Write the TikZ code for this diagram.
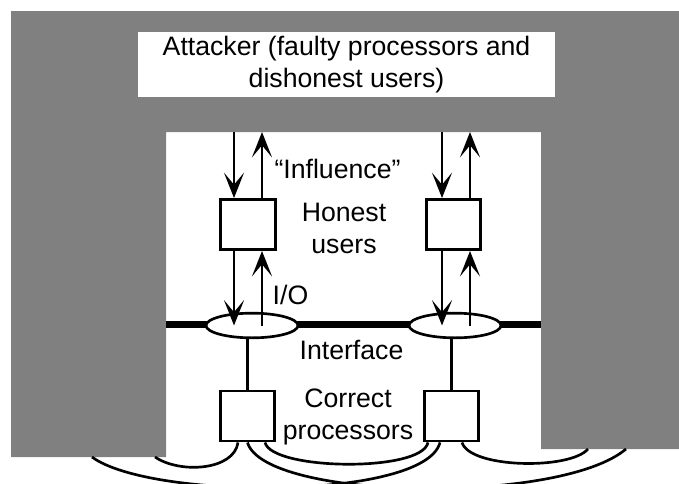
\documentclass[tikz,border=0pt]{standalone}
\usepackage{fontspec}
\setmainfont{Liberation Sans}
\usetikzlibrary{arrows.meta,calc,shapes.geometric}

\tikzset{
    box/.style={draw, line width=2.2pt, fill=white, minimum width=41pt, minimum height=37.5pt, inner sep=0pt},
    port/.style={draw, ellipse, line width=2pt, fill=white, minimum width=69pt, minimum height=18.5pt, inner sep=0pt},
    flow/.style={line width=2pt, -{Stealth[length=19pt,width=15pt,inset=9pt]}},
    wire/.style={line width=2pt},
    bus/.style={line width=5.25pt},
    panel/.style={fill=black!50},
    txt/.style={font=\fontsize{20}{24}\selectfont, align=center, inner sep=0pt},
}

\begin{document}
\begin{tikzpicture}[x=0.75pt, y=-0.75pt]
    \useasboundingbox (0,0) rectangle (679,483);
    \clip (0,0) rectangle (679,483);
    \fill[white] (0,0) rectangle (679,483);

    % attacker surrounds the system
    \fill[panel] (11,11) -- (679,11) -- (679,449) -- (541,449) -- (541,132)
        -- (166,132) -- (166,457) -- (11,457) -- cycle;
    \node[txt, fill=white, minimum width=312.75pt, minimum height=48.75pt] (att) at (346.5,64.5)
        {Attacker (faulty processors and\\dishonest users)};

    \coordinate (ifl) at (166,324);
    \coordinate (ifr) at (541,324);
    \draw[bus] (ifl) -- (ifr);

    \node[box] (hu1) at (248,224.5) {};
    \node[box] (hu2) at (453.5,224.5) {};
    \node[port] (if1) at (252,325.5) {};
    \node[port] (if2) at (455,325.5) {};
    \node[box] (cp1) at (247.5,416) {};
    \node[box] (cp2) at (451.5,416) {};

    \node[txt] (infl) at (337.5,169) {``Influence''};
    \node[txt] (hon) at (344,228.5) {Honest\\users};
    \node[txt] (io) at (290.5,294.5) {I/O};
    \node[txt] (intf) at (351.5,350) {Interface};
    \node[txt] (corr) at (348,417) {Correct\\processors};

    % user <-> attacker and user <-> interface
    \coordinate (a1) at (234,132);
    \coordinate (a2) at (262,132);
    \coordinate (b1) at (442,132);
    \coordinate (b2) at (470,132);
    \draw[flow] (a1) -- (a1 |- hu1.north);
    \draw[flow] (a2 |- hu1.north) -- (a2);
    \draw[flow] (a1 |- hu1.south) -- (a1 |- if1.center);
    \draw[flow] (a2 |- if1.center) -- (a2 |- hu1.south);
    \draw[flow] (b1) -- (b1 |- hu2.north);
    \draw[flow] (b2 |- hu2.north) -- (b2);
    \draw[flow] (b1 |- hu2.south) -- (b1 |- if2.center);
    \draw[flow] (b2 |- if2.center) -- (b2 |- hu2.south);

    \draw[wire] (if1.south -| cp1.north) -- (cp1.north);
    \draw[wire] (if2.south -| cp2.north) -- (cp2.north);

    % network between processors
    \coordinate (pl1) at (155,457);
    \coordinate (pl2) at (92,457);
    \coordinate (pr1) at (588,449);
    \coordinate (pr2) at (626,449);
    \draw[wire] ($(cp1.south)+(-9.5,0)$) .. controls +(-4,28) and +(25,17) .. (pl1);
    \draw[wire] ($(cp1.south)+(17.5,0)$) .. controls +(7,28) and +(-6,30) .. ($(cp2.south)+(-23.5,0)$);
    \draw[wire] ($(cp2.south)+(10.5,0)$) .. controls +(8,26) and +(-18,21) .. (pr1);
    \draw[wire] (cp1.south) .. controls +(17,58) and +(-66,56) .. (pr2);
    \draw[wire] ($(cp2.south)+(-11.5,0)$) .. controls +(-15,58) and +(58,43) .. (pl2);
\end{tikzpicture}
\end{document}
